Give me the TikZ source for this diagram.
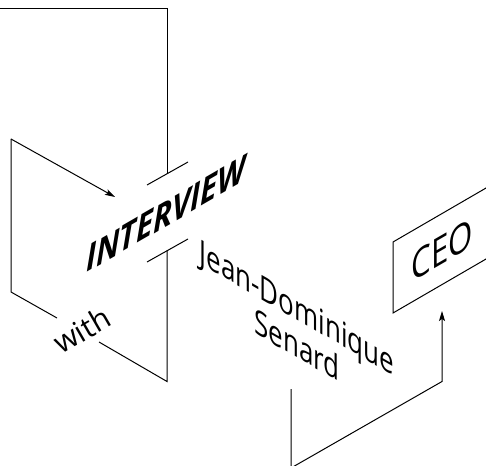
\documentclass[tikz,border=0pt]{standalone}
\usepackage{fontspec}
\setmainfont{Open Sans}
\usetikzlibrary{arrows.meta}

\tikzset{
  wire/.style={line width=1bp, line join=miter},
  isoup/.style={cm={0.866,0.5,0,1.12,(0,0)}},
  isodown/.style={cm={0.866,-0.5,0,1.15,(0,0)}},
  txt/.style={font=\fontsize{30bp}{33bp}\selectfont, inner sep=0pt},
}

\begin{document}
\begin{tikzpicture}[x=1bp, y=-1bp, >={Stealth[length=10bp,width=6bp,inset=2bp]}]
        \useasboundingbox (0,0) rectangle (486,466);
        \clip (0,0) rectangle (486,466);

        % Texts
        \node[cm={0.866,0.5,0,1,(0,0)}, inner sep=0pt, font=\fontsize{36bp}{40bp}\selectfont\bfseries\itshape] (interview) at (166,214) {INTERVIEW};
        \node[isodown, txt, align=center] (name) at (297,326) {Jean-Dominique\\Senard};
        \node[rotate=30, txt] (with) at (82,330) {with};
        \node[isoup, txt, font=\fontsize{36bp}{40bp}\selectfont] (ceo) at (442,250) {CEO};

        % Cut marks around INTERVIEW
        \coordinate (cutA1) at (147,185);
        \coordinate (cutA2) at (188,162);
        \coordinate (cutB1) at (147,262);
        \coordinate (cutB2) at (188,239);
        \draw[wire] (cutA1) -- (cutA2);
        \draw[wire] (cutB1) -- (cutB2);

        % Upper frame
        \coordinate (topL) at (-2,9);
        \coordinate (topR) at (167,9);
        \draw[wire] (topL) -- (topR) -- (167,173.5);

        % Left frame
        \coordinate (lfTop) at (11,139);
        \coordinate (lfBot) at (11,292);
        \coordinate (lfTip) at (115,197);
        \coordinate (lfCorner) at (167,381.5);
        \draw[wire, ->] (lfTop) -- (lfTip);
        \draw[wire] (lfTop) -- (lfBot) -- (57,318);
        \draw[wire] (99,342) -- (lfCorner) -- (167,250.5);

        % CEO box
        \coordinate (boxTL) at (393,242);
        \coordinate (boxBL) at (393,313);
        \draw[wire] (520,168.3) -- (boxTL) -- (boxBL) -- (520,239.3);

        % Path to CEO
        \coordinate (stem) at (291,389);
        \coordinate (low) at (291,468);
        \coordinate (bend) at (442,381.5);
        \coordinate (ceoTip) at (442,311);
        \draw[wire, ->] (stem) -- (low) -- (bend) -- (ceoTip);
\end{tikzpicture}
\end{document}
